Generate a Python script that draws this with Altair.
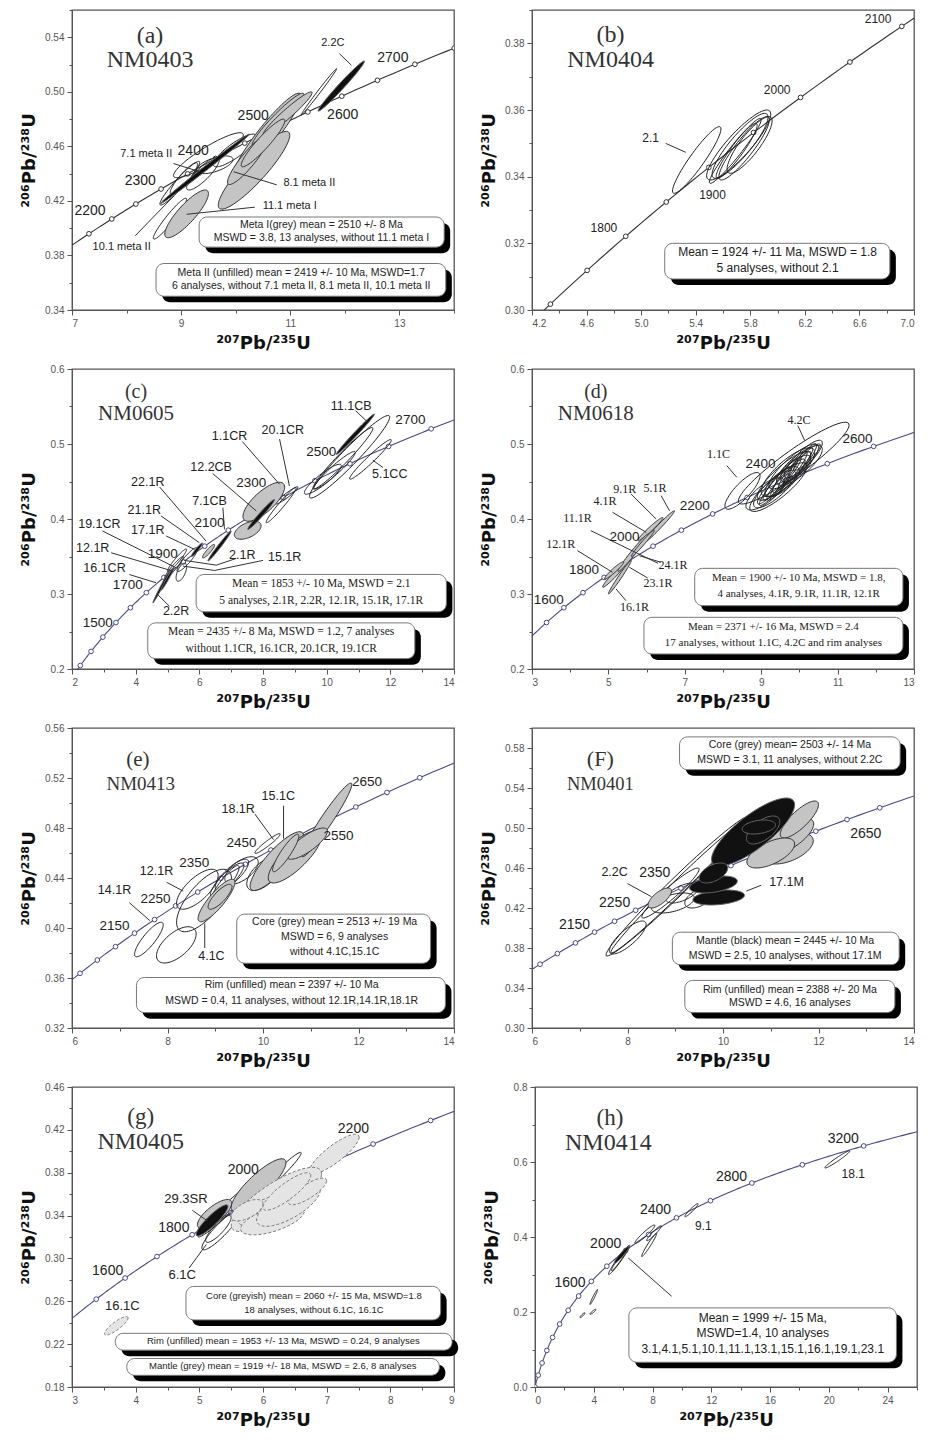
import json
import numpy as np
import pandas as pd
import altair as alt

L238 = 1.55125e-10
L235 = 9.8485e-10

XTITLE = "²⁰⁷Pb/²³⁵U"
YTITLE = "²⁰⁶Pb/²³⁸U"

# ---------------- panel (a) NM0403 ----------------
A_XDOM = [7, 14]
A_YDOM = [0.34, 0.56]
A_XMAJ = [7, 9, 11, 13]
A_XMIN = [8, 10, 12, 14]
A_YMAJ = [0.34, 0.38, 0.42, 0.46, 0.50, 0.54]
A_YMIN = [0.36, 0.40, 0.44, 0.48, 0.52, 0.56]
A_MARKS = [2150, 2200, 2250, 2300, 2350, 2400, 2450, 2500, 2550, 2600, 2650, 2700, 2750]
A_CURVE = list(range(2050, 2850, 10))
# (x_lo, x_hi, y_lo, y_hi, rho, style)  style: w=unfilled g=grey k=black d=dashed light
A_ELL = [
    (9.95, 11.2, 0.4366, 0.499, 0.93, "g"),
    (9.68, 10.99, 0.414, 0.471, 0.90, "g"),
    (8.7, 9.5, 0.393, 0.428, 0.85, "g"),
    (10.3, 11.25, 0.46, 0.499, 0.95, "g"),
    (10.5, 11.4, 0.468, 0.50, 0.96, "g"),
    (9.85, 10.6, 0.432, 0.468, 0.90, "g"),
    (10.1, 10.9, 0.445, 0.48, 0.93, "g"),
    (8.61, 9.34, 0.417, 0.449, 0.95, "w"),
    (8.49, 9.1, 0.392, 0.422, 0.95, "w"),
    (8.86, 10.14, 0.437, 0.470, 0.90, "w"),
    (9.28, 9.95, 0.44, 0.453, 0.60, "w"),
    (9.1, 9.7, 0.428, 0.452, 0.85, "w"),
    (9.59, 10.38, 0.445, 0.469, 0.85, "w"),
    (8.8, 9.3, 0.425, 0.448, 0.90, "w"),
    (11.2, 11.85, 0.483, 0.517, 0.995, "w"),
    (8.62, 10.25, 0.418, 0.469, 0.997, "k"),
    (11.51, 12.36, 0.4858, 0.5226, 0.985, "k"),
]
A_AGE_LBL = [(12.88, 0.525, "2700"), (11.96, 0.483, "2600"), (10.32, 0.482, "2500"),
             (9.22, 0.4565, "2400"), (8.25, 0.4347, "2300"), (7.33, 0.4126, "2200")]
A_SPOT_LBL = [(11.78, 0.536, "2.2C"), (8.36, 0.4546, "7.1 meta II"), (11.35, 0.4335, "8.1 meta II"),
              (10.99, 0.4162, "11.1 meta I"), (7.91, 0.386, "10.1 meta II")]
A_LEAD = [(11.9, 0.528, 12.12, 0.5195), (8.86, 0.4474, 9.34, 0.4414), (10.75, 0.4318, 9.96, 0.4414),
          (10.35, 0.4154, 9.1, 0.4102), (8.16, 0.3945, 8.86, 0.4234)]
A_BOX = [(9.33, 13.82, 0.3861, 0.4082), (8.54, 13.85, 0.3501, 0.3741)]
A_BOX_TXT = [(11.57, 0.4025, "Meta I(grey) mean = 2510 +/- 8 Ma"),
             (11.57, 0.3929, "MSWD = 3.8, 13 analyses, without 11.1 meta I"),
             (11.2, 0.3674, "Meta II (unfilled) mean = 2419 +/- 10 Ma, MSWD=1.7"),
             (11.2, 0.3578, "6 analyses, without 7.1 meta II, 8.1 meta II, 10.1 meta II")]
A_TITLE = [(8.43, 0.541, "(a)"), (8.43, 0.523, "NM0403")]

# ---------------- panel (b) NM0404 ----------------
B_XDOM = [4.2, 7.0]
B_YDOM = [0.30, 0.39]
B_XMAJ = [4.2, 4.6, 5.0, 5.4, 5.8, 6.2, 6.6, 7.0]
B_XMIN = [4.4, 4.8, 5.2, 5.6, 6.0, 6.4, 6.8]
B_YMAJ = [0.30, 0.32, 0.34, 0.36, 0.38]
B_YMIN = [0.31, 0.33, 0.35, 0.37, 0.39]
B_MARKS = [1700, 1750, 1800, 1850, 1900, 1950, 2000, 2050, 2100]
B_CURVE = list(range(1650, 2160, 10))
B_ELL = [
    (5.23, 5.585, 0.335, 0.355, 0.93, "w"),
    (5.48, 5.95, 0.339, 0.360, 0.88, "w"),
    (5.52, 5.93, 0.3395, 0.359, 0.88, "w"),
    (5.57, 5.94, 0.339, 0.358, 0.90, "w"),
    (5.63, 5.96, 0.341, 0.358, 0.85, "w"),
    (5.5, 5.88, 0.338, 0.3575, 0.96, "w"),
    (5.55, 5.85, 0.3395, 0.356, 0.93, "w"),
]
B_AGE_LBL = [(6.737, 0.3873, "2100"), (5.997, 0.3661, "2000"), (5.523, 0.3346, "1900"),
             (4.727, 0.3246, "1800")]
B_SPOT_LBL = [(5.07, 0.3515, "2.1")]
B_LEAD = [(5.18, 0.35, 5.327, 0.3473)]
B_BOX = [(5.173, 6.823, 0.3093, 0.32)]
B_BOX_TXT = [(6.0, 0.3173, "Mean = 1924 +/- 11 Ma, MSWD = 1.8"),
             (6.0, 0.3127, "5 analyses, without 2.1")]
B_TITLE = [(4.776, 0.3824, "(b)"), (4.776, 0.3751, "NM0404")]

# ---------------- panel (c) NM0605 ----------------
C_XDOM = [2, 14]
C_YDOM = [0.2, 0.6]
C_XMAJ = [2, 4, 6, 8, 10, 12, 14]
C_XMIN = [3, 5, 7, 9, 11, 13]
C_YMAJ = [0.2, 0.3, 0.4, 0.5, 0.6]
C_YMIN = [0.25, 0.35, 0.45, 0.55]
C_MARKS = [1200, 1300, 1400, 1500, 1600, 1700, 1800, 1900, 2000, 2100, 2200, 2300, 2400, 2500,
           2600, 2700, 2800]
C_CURVE = list(range(1150, 2850, 10))
C_ELL = [
    (9.46, 11.98, 0.428, 0.538, 0.96, "w"),
    (9.57, 11.45, 0.44, 0.522, 0.97, "w"),
    (10.72, 12.03, 0.453, 0.506, 0.97, "w"),
    (9.3, 10.46, 0.433, 0.473, 0.90, "w"),
    (9.6, 10.9, 0.44, 0.49, 0.95, "w"),
    (8.1, 9.04, 0.395, 0.442, 0.97, "w"),
    (8.4, 9.1, 0.42, 0.443, 0.95, "w"),
    (5.3, 5.95, 0.33, 0.362, 0.90, "w"),
    (5.27, 5.6, 0.317, 0.341, 0.60, "w"),
    (4.9, 5.5, 0.32, 0.35, 0.95, "w"),
    (5.0, 5.6, 0.33, 0.36, 0.95, "w"),
    (7.37, 8.68, 0.397, 0.449, 0.75, "g"),
    (7.1, 7.94, 0.373, 0.397, 0.50, "g"),
    (6.1, 6.48, 0.348, 0.366, 0.90, "g"),
    (10.3, 11.5, 0.486, 0.54, 0.99, "k"),
    (7.52, 8.36, 0.386, 0.426, 0.98, "k"),
    (6.27, 7.0, 0.344, 0.384, 0.985, "k"),
    (5.75, 6.1, 0.35, 0.368, 0.95, "k"),
    (4.54, 5.06, 0.288, 0.33, 0.99, "k"),
    (4.8, 5.2, 0.305, 0.335, 0.98, "k"),
]
C_AGE_LBL = [(12.63, 0.5318, "2700"), (9.83, 0.49, "2500"), (7.63, 0.4486, "2300"),
             (6.32, 0.3951, "2100"), (4.85, 0.3528, "1900"), (3.75, 0.3114, "1700"),
             (2.81, 0.2615, "1500")]
C_SPOT_LBL = [(10.77, 0.551, "11.1CB"), (6.95, 0.511, "1.1CR"), (8.62, 0.5185, "20.1CR"),
              (11.98, 0.4606, "5.1CC"), (6.37, 0.4695, "12.2CB"), (4.38, 0.4499, "22.1R"),
              (6.32, 0.424, "7.1CB"), (4.27, 0.4125, "21.1R"), (2.86, 0.3929, "19.1CR"),
              (4.38, 0.3853, "17.1R"), (2.65, 0.3617, "12.1R"), (7.35, 0.3519, "2.1R"),
              (8.68, 0.3492, "15.1R"), (3.02, 0.3341, "16.1CR"), (5.27, 0.2771, "2.2R")]
C_LEAD = [(10.91, 0.5443, 11.3, 0.5287), (7.35, 0.5033, 8.52, 0.4463), (8.52, 0.5065, 8.83, 0.4441),
          (11.77, 0.4686, 11.45, 0.4784), (6.42, 0.4606, 7.79, 0.4107), (4.75, 0.4428, 6.21, 0.3706),
          (6.74, 0.4151, 6.79, 0.3862), (4.8, 0.404, 6.0, 0.3684), (4.96, 0.3773, 5.85, 0.3595),
          (2.96, 0.384, 5.27, 0.335), (3.23, 0.355, 5.17, 0.3305), (3.8, 0.326, 4.64, 0.315),
          (5.06, 0.2837, 4.69, 0.2993),
          (5.53, 0.3448, 6.53, 0.3385), (6.53, 0.3385, 7.16, 0.3474),
          (5.48, 0.3372, 6.48, 0.3314), (6.48, 0.3314, 8.0, 0.3448)]
C_BOX = [(5.9, 13.76, 0.2762, 0.3261), (4.38, 12.77, 0.2138, 0.2615)]
C_BOX_TXT = [(9.83, 0.3127, "Mean = 1853 +/- 10 Ma, MSWD = 2.1"),
             (9.83, 0.2904, "5 analyses, 2.1R, 2.2R, 12.1R, 15.1R, 17.1R"),
             (8.57, 0.2494, "Mean = 2435 +/- 8 Ma, MSWD = 1.2, 7 analyses"),
             (8.57, 0.2272, "without 1.1CR, 16.1CR, 20.1CR, 19.1CR")]
C_TITLE = [(4.01, 0.5700, "(c)"), (4.01, 0.5400, "NM0605")]

# ---------------- panel (d) NM0618 ----------------
D_XDOM = [3, 13]
D_YDOM = [0.2, 0.6]
D_XMAJ = [3, 5, 7, 9, 11, 13]
D_XMIN = [4, 6, 8, 10, 12]
D_YMAJ = [0.2, 0.3, 0.4, 0.5, 0.6]
D_YMIN = [0.25, 0.35, 0.45, 0.55]
D_MARKS = [1500, 1600, 1700, 1800, 1900, 2000, 2100, 2200, 2300, 2400, 2500, 2600]
D_CURVE = list(range(1350, 2750, 10))
D_ELL = [
    (8.05, 8.97, 0.413, 0.462, 0.82, "w"),
    (8.4, 11.3, 0.42, 0.529, 0.93, "w"),
    (8.7, 10.2, 0.41, 0.475, 0.85, "w"),
    (8.9, 10.3, 0.425, 0.49, 0.85, "w"),
    (9.0, 10.4, 0.43, 0.495, 0.80, "w"),
    (9.2, 10.5, 0.44, 0.50, 0.85, "w"),
    (8.8, 9.9, 0.415, 0.465, 0.80, "w"),
    (9.4, 10.6, 0.445, 0.498, 0.80, "w"),
    (9.1, 10.0, 0.43, 0.47, 0.70, "w"),
    (9.5, 10.3, 0.45, 0.485, 0.75, "w"),
    (9.6, 10.6, 0.455, 0.505, 0.85, "w"),
    (8.6, 9.6, 0.412, 0.455, 0.75, "w"),
    (8.9, 9.8, 0.42, 0.47, 0.92, "w"),
    (9.05, 9.95, 0.425, 0.48, 0.93, "w"),
    (9.3, 10.2, 0.435, 0.49, 0.92, "w"),
    (9.45, 10.35, 0.44, 0.495, 0.93, "w"),
    (9.6, 10.45, 0.448, 0.50, 0.92, "w"),
    (8.95, 10.05, 0.418, 0.483, 0.95, "w"),
    (9.25, 10.15, 0.43, 0.48, 0.90, "w"),
    (9.7, 10.3, 0.455, 0.49, 0.90, "w"),
    (9.15, 9.75, 0.425, 0.46, 0.88, "w"),
    (9.85, 10.55, 0.465, 0.50, 0.90, "w"),
    (5.77, 6.43, 0.371, 0.402, 0.97, "g"),
    (5.9, 6.73, 0.367, 0.411, 0.985, "g"),
    (4.85, 5.5, 0.309, 0.344, 0.97, "g"),
    (5.0, 5.6, 0.30, 0.345, 0.985, "g"),
    (5.25, 6.05, 0.33, 0.38, 0.98, "g"),
    (4.9, 5.4, 0.32, 0.343, 0.95, "g"),
    (5.6, 6.2, 0.35, 0.385, 0.98, "g"),
]
D_AGE_LBL = [(11.52, 0.5067, "2600"), (8.98, 0.4733, "2400"), (7.26, 0.4178, "2200"),
             (5.42, 0.3756, "2000"), (4.36, 0.332, "1800"), (3.44, 0.292, "1600")]
D_SPOT_LBL = [(9.99, 0.532, "4.2C"), (7.88, 0.4867, "1.1C"), (5.43, 0.44, "9.1R"),
              (6.22, 0.4413, "5.1R"), (4.91, 0.4244, "4.1R"), (4.19, 0.4013, "11.1R"),
              (3.75, 0.3667, "12.1R"), (6.69, 0.3391, "24.1R"), (6.3, 0.3142, "23.1R"),
              (5.68, 0.2831, "16.1R")]
D_LEAD = [(9.96, 0.5244, 10.14, 0.5044), (8.1, 0.4711, 8.36, 0.4556), (5.59, 0.4333, 6.25, 0.40),
          (6.38, 0.4311, 6.6, 0.4111), (5.11, 0.4089, 5.99, 0.3822), (4.54, 0.3844, 6.3, 0.3409),
          (4.19, 0.3578, 5.11, 0.3289), (6.38, 0.3422, 5.81, 0.3511), (6.03, 0.3213, 5.55, 0.3356),
          (5.46, 0.2911, 5.2, 0.3067)]
D_BOX = [(7.26, 12.71, 0.2844, 0.3342), (5.93, 12.71, 0.22, 0.2689)]
D_BOX_TXT = [(9.98, 0.3209, "Mean = 1900 +/- 10 Ma, MSWD = 1.8,"),
             (9.98, 0.3, "4 analyses, 4.1R, 9.1R, 11.1R, 12.1R"),
             (9.32, 0.2556, "Mean = 2371 +/- 16 Ma, MSWD = 2.4"),
             (9.32, 0.2347, "17 analyses, without 1.1C, 4.2C and rim analyses")]
D_TITLE = [(4.67, 0.5700, "(d)"), (4.67, 0.5400, "NM0618")]

# ---------------- panel (e) NM0413 ----------------
E_XDOM = [6, 14]
E_YDOM = [0.32, 0.56]
E_XMAJ = [6, 8, 10, 12, 14]
E_XMIN = [7, 9, 11, 13]
E_YMAJ = [0.32, 0.36, 0.40, 0.44, 0.48, 0.52, 0.56]
E_YMIN = [0.34, 0.38, 0.42, 0.46, 0.50, 0.54]
E_MARKS = [2000, 2050, 2100, 2150, 2200, 2250, 2300, 2350, 2400, 2450, 2500, 2550, 2600, 2650, 2700]
E_CURVE = list(range(1950, 2800, 10))
E_ELL = [
    (7.31, 7.91, 0.377, 0.4046, 0.85, "w"),
    (7.77, 8.6, 0.372, 0.401, 0.60, "w"),
    (8.19, 9.06, 0.415, 0.447, 0.70, "w"),
    (8.19, 9.34, 0.397, 0.447, 0.70, "w"),
    (8.9, 9.6, 0.425, 0.452, 0.85, "w"),
    (9.0, 9.7, 0.43, 0.455, 0.80, "w"),
    (8.9, 9.5, 0.42, 0.45, 0.90, "w"),
    (9.66, 10.39, 0.43, 0.457, 0.60, "w"),
    (9.2, 9.9, 0.435, 0.457, 0.60, "w"),
    (9.83, 10.36, 0.4597, 0.4755, 0.95, "w"),
    (8.64, 9.41, 0.405, 0.439, 0.85, "g"),
    (8.85, 9.35, 0.415, 0.435, 0.80, "g"),
    (9.73, 10.85, 0.43, 0.477, 0.85, "g"),
    (10.11, 11.23, 0.436, 0.478, 0.80, "g"),
    (10.81, 11.86, 0.457, 0.516, 0.96, "g"),
    (10.5, 11.35, 0.455, 0.48, 0.80, "g"),
    (10.2, 10.75, 0.445, 0.475, 0.90, "g"),
]
E_AGE_LBL = [(12.18, 0.517, "2650"), (9.55, 0.4681, "2450"), (11.58, 0.4734, "2550"),
             (8.56, 0.4518, "2350"), (7.75, 0.4235, "2250"), (6.89, 0.4019, "2150")]
E_SPOT_LBL = [(10.32, 0.5057, "15.1C"), (9.48, 0.4952, "18.1R"), (7.77, 0.4453, "12.1R"),
              (6.89, 0.4308, "14.1R"), (8.92, 0.3778, "4.1C")]
E_LEAD = [(9.83, 0.4912, 10.22, 0.4707), (10.43, 0.4978, 10.43, 0.4715), (7.98, 0.4366, 8.33, 0.4295),
          (7.2, 0.4203, 7.63, 0.4059), (8.78, 0.3840, 8.78, 0.4036)]
E_BOX = [(9.45, 13.51, 0.3718, 0.4111), (7.35, 13.82, 0.3323, 0.3604)]
E_BOX_TXT = [(11.5, 0.4046, "Core (grey) mean = 2513 +/- 19 Ma"),
             (11.5, 0.3925, "MSWD = 6, 9 analyses"),
             (11.5, 0.3809, "without 4.1C,15.1C"),
             (10.6, 0.3541, "Rim (unfilled) mean = 2397 +/- 10 Ma"),
             (10.6, 0.3415, "MSWD = 0.4, 11 analyses, without 12.1R,14.1R,18.1R")]
E_TITLE = [(7.38, 0.5345, "(e)"), (7.44, 0.5149, "NM0413")]

# ---------------- panel (F) NM0401 ----------------
F_XDOM = [6, 14]
F_YDOM = [0.30, 0.60]
F_XMAJ = [6, 8, 10, 12, 14]
F_XMIN = [7, 9, 11, 13]
F_YMAJ = [0.30, 0.34, 0.38, 0.42, 0.46, 0.50, 0.54, 0.58]
F_YMIN = [0.32, 0.36, 0.40, 0.44, 0.48, 0.52, 0.56, 0.60]
F_MARKS = [2000, 2050, 2100, 2150, 2200, 2250, 2300, 2350, 2400, 2450, 2500, 2550, 2600, 2650, 2700]
F_CURVE = list(range(1950, 2800, 10))
F_ELL = [
    (7.55, 10.56, 0.372, 0.512, 0.985, "w"),
    (7.65, 10.5, 0.375, 0.508, 0.99, "w"),
    (7.62, 8.39, 0.374, 0.407, 0.80, "w"),
    (8.3, 9.5, 0.41, 0.46, 0.95, "w"),
    (8.5, 9.4, 0.415, 0.435, 0.50, "w"),
    (8.8, 9.5, 0.425, 0.445, 0.60, "w"),
    (9.2, 9.8, 0.42, 0.44, 0.50, "w"),
    (10.84, 11.89, 0.464, 0.495, 0.50, "g"),
    (10.7, 11.9, 0.47, 0.51, 0.70, "g"),
    (11.2, 12.0, 0.49, 0.527, 0.80, "g"),
    (10.5, 11.5, 0.46, 0.49, 0.60, "g"),
    (8.43, 8.92, 0.42, 0.44, 0.70, "g"),
    (9.76, 11.5, 0.462, 0.53, 0.80, "k"),
    (10.49, 11.19, 0.484, 0.512, 0.60, "k"),
    (10.4, 11.1, 0.494, 0.508, 0.30, "k"),
    (9.37, 10.45, 0.423, 0.438, 0.30, "k"),
    (9.3, 10.3, 0.435, 0.452, 0.40, "k"),
    (9.5, 10.1, 0.445, 0.465, 0.50, "k"),
]
F_AGE_LBL = [(12.99, 0.4936, "2650"), (8.57, 0.4552, "2350"), (7.73, 0.4247, "2250"),
             (6.89, 0.4034, "2150")]
F_SPOT_LBL = [(7.73, 0.4559, "2.2C"), (11.33, 0.446, "17.1M")]
F_LEAD = [(8.0, 0.4444, 8.5, 0.4313), (10.8, 0.4428, 10.49, 0.4369)]
F_BOX = [(9.09, 13.71, 0.5583, 0.5911), (8.94, 13.69, 0.3633, 0.3958), (9.2, 13.6, 0.3154, 0.3476)]
F_BOX_TXT = [(11.4, 0.5829, "Core (grey) mean= 2503 +/- 14 Ma"),
             (11.4, 0.5681, "MSWD = 3.1, 11 analyses, without 2.2C"),
             (11.3, 0.387, "Mantle (black) mean = 2445 +/- 10 Ma"),
             (11.3, 0.3722, "MSWD = 2.5, 10 analyses, without 17.1M"),
             (11.4, 0.3384, "Rim (unfilled) mean = 2388 +/- 20 Ma"),
             (11.4, 0.3246, "MSWD = 4.6, 16 analyses")]
F_TITLE = [(7.43, 0.5691, "(F)"), (7.43, 0.5445, "NM0401")]

# ---------------- panel (g) NM0405 ----------------
G_XDOM = [3, 9]
G_YDOM = [0.18, 0.46]
G_XMAJ = [3, 4, 5, 6, 7, 8, 9]
G_XMIN = [3.5, 4.5, 5.5, 6.5, 7.5, 8.5]
G_YMAJ = [0.18, 0.22, 0.26, 0.30, 0.34, 0.38, 0.42, 0.46]
G_YMIN = [0.20, 0.24, 0.28, 0.32, 0.36, 0.40, 0.44]
G_MARKS = [1500, 1600, 1700, 1800, 1900, 2000, 2100, 2200, 2300]
G_CURVE = list(range(1350, 2400, 10))
G_ELL = [
    (5.88, 6.6, 0.357, 0.399, 0.97, "w"),
    (5.04, 5.64, 0.308, 0.345, 0.90, "w"),
    (4.98, 5.85, 0.32, 0.37, 0.97, "w"),
    (5.1, 5.5, 0.315, 0.34, 0.85, "w"),
    (5.6, 6.1, 0.345, 0.37, 0.85, "w"),
    (4.97, 5.51, 0.328, 0.355, 0.75, "g"),
    (5.5, 6.36, 0.344, 0.393, 0.85, "g"),
    (3.51, 3.88, 0.2285, 0.2457, 0.85, "d"),
    (6.73, 7.51, 0.379, 0.416, 0.85, "d"),
    (5.5, 6.92, 0.325, 0.385, 0.80, "d"),
    (5.6, 6.6, 0.33, 0.36, 0.60, "d"),
    (5.65, 6.65, 0.322, 0.35, 0.60, "d"),
    (5.9, 6.9, 0.33, 0.37, 0.70, "d"),
    (5.5, 6.0, 0.335, 0.355, 0.60, "d"),
    (6.4, 7.0, 0.35, 0.375, 0.80, "d"),
    (6.0, 6.75, 0.345, 0.38, 0.85, "d"),
    (4.95, 5.45, 0.321, 0.35, 0.90, "k"),
]
G_AGE_LBL = [(7.42, 0.4209, "2200"), (5.69, 0.3824, "2000"), (4.6, 0.3286, "1800"),
             (3.56, 0.2879, "1600")]
G_SPOT_LBL = [(4.79, 0.3558, "29.3SR"), (4.73, 0.2842, "6.1C"), (3.79, 0.2557, "16.1C")]
G_LEAD = [(4.89, 0.3449, 5.13, 0.3349), (4.84, 0.2911, 5.11, 0.313)]
G_BOX = [(4.79, 8.79, 0.2426, 0.2739), (3.68, 8.97, 0.2144, 0.2301), (3.86, 8.77, 0.1909, 0.2066)]
G_BOX_TXT = [(6.8, 0.2654, "Core (greyish) mean = 2060 +/- 15 Ma, MSWD=1.8"),
             (6.8, 0.252, "18 analyses, without 6.1C, 16.1C"),
             (6.32, 0.2229, "Rim (unfilled) mean = 1953 +/- 13  Ma, MSWD = 0.24, 9 analyses"),
             (6.31, 0.1993, "Mantle (grey) mean = 1919 +/- 18 Ma, MSWD = 2.6, 8 analyses")]
G_TITLE = [(4.08, 0.4319, "(g)"), (4.08, 0.4084, "NM0405")]

# ---------------- panel (h) NM0414 ----------------
H_XDOM = [0, 26]
H_YDOM = [0.0, 0.8]
H_XMAJ = [0, 4, 8, 12, 16, 20, 24]
H_XMIN = [2, 6, 10, 14, 18, 22, 26]
H_YMAJ = [0.0, 0.2, 0.4, 0.6, 0.8]
H_YMIN = [0.1, 0.3, 0.5, 0.7]
H_MARKS = [0, 200, 400, 600, 800, 1000, 1200, 1400, 1600, 1800, 2000, 2200, 2400, 2600, 2800,
           3000, 3200]
H_CURVE = list(range(0, 3500, 10))
H_ELL = [
    (19.73, 21.43, 0.584, 0.630, 0.97, "w"),
    (10.2, 11.1, 0.454, 0.489, 0.95, "w"),
    (5.0, 6.45, 0.30, 0.378, 0.97, "w"),
    (5.2, 6.3, 0.31, 0.37, 0.97, "w"),
    (6.8, 8.16, 0.383, 0.432, 0.95, "w"),
    (7.26, 8.28, 0.348, 0.41, 0.97, "w"),
    (7.6, 8.6, 0.39, 0.43, 0.95, "w"),
    (3.74, 4.26, 0.22, 0.26, 0.97, "w"),
    (3.06, 3.4, 0.185, 0.198, 0.90, "w"),
    (3.74, 4.15, 0.194, 0.207, 0.90, "w"),
    (5.4, 6.4, 0.33, 0.375, 0.95, "k"),
]
H_AGE_LBL = [(20.98, 0.661, "3200"), (13.38, 0.559, "2800"), (8.2, 0.471, "2400"),
             (4.81, 0.381, "2000"), (2.38, 0.278, "1600")]
H_SPOT_LBL = [(21.66, 0.568, "18.1"), (11.45, 0.429, "9.1")]
H_LEAD = [(6.35, 0.344, 9.3, 0.242)]
H_BOX = [(6.39, 24.6, 0.066, 0.211)]
H_BOX_TXT = [(15.5, 0.185, "Mean = 1999 +/- 15 Ma,"),
             (15.5, 0.1427, "MSWD=1.4, 10 analyses"),
             (15.5, 0.1013, "3.1,4.1,5.1,10.1,11.1,13.1,15.1,16.1,19.1,23.1")]
H_TITLE = [(5.1, 0.718, "(h)"), (4.99, 0.652, "NM0414")]

# ------------------------------------------------------------------------------
SANS = "Liberation Sans"
SERIF = "Liberation Serif"
TITLE_FONT = "DejaVu Sans"
NAVY = "#4a4a8c"
W, H = 382, 300


def conc(ages):
    a = np.asarray(ages, dtype=float) * 1e6
    return np.exp(L235 * a) - 1.0, np.exp(L238 * a) - 1.0


def ell_df(ells, style):
    t = np.linspace(0, 2 * np.pi, 73)[:-1]
    rows = []
    for i, (x0, x1, y0, y1, rho, st) in enumerate(ells):
        if st != style:
            continue
        cx, cy = (x0 + x1) / 2, (y0 + y1) / 2
        sx, sy = (x1 - x0) / 2, (y1 - y0) / 2
        xs = cx + sx * np.cos(t)
        ys = cy + sy * (rho * np.cos(t) + np.sqrt(1 - rho ** 2) * np.sin(t))
        for k in range(len(t)):
            rows.append({"id": i, "k": k, "x": float(xs[k]), "y": float(ys[k])})
    return pd.DataFrame(rows)


def make_axis(title, major, minor, fmt, orient):
    test = "indexof(" + json.dumps(major) + ", datum.value) >= 0"
    kw = dict(
        title=title, values=sorted(major + minor),
        labelExpr=test + " ? format(datum.value, '" + fmt + "') : ''",
        tickSize={"condition": {"test": test, "value": 5}, "value": 3},
        labelFont=SANS, labelFontSize=10, labelColor="#555",
        titleFont=TITLE_FONT, titleFontSize=18, titleFontWeight="bold", titleColor="#111",
        tickColor="#555", domainColor="#555", grid=False, labelPadding=3,
    )
    if orient == "left":
        kw.update(minExtent=32, maxExtent=32, titlePadding=2)
    else:
        kw.update(minExtent=20, maxExtent=20, titlePadding=4)
    return alt.Axis(**kw)


def panel(P):
    xs = alt.Scale(domain=P["xdom"], zero=False, nice=False)
    ys = alt.Scale(domain=P["ydom"], zero=False, nice=False)
    xax = make_axis(XTITLE, P["xmaj"], P["xmin"], P["xfmt"], "bottom")
    yax = make_axis(YTITLE, P["ymaj"], P["ymin"], P["yfmt"], "left")

    def X(f="x"):
        return alt.X(f + ":Q", scale=xs, axis=xax)

    def Y(f="y"):
        return alt.Y(f + ":Q", scale=ys, axis=yax)

    layers = []
    cx, cy = conc(P["curve"])
    cdf = pd.DataFrame({"x": cx, "y": cy, "o": np.arange(len(cx))})
    layers.append(alt.Chart(cdf).mark_line(color=P["ccol"], strokeWidth=1.1, clip=True)
                  .encode(x=X(), y=Y(), order="o:Q"))
    mx, my = conc(P["marks"])
    mdf = pd.DataFrame({"x": mx, "y": my})
    layers.append(alt.Chart(mdf).mark_point(shape="circle", size=22, filled=True, fill="white",
                                            stroke=P["ccol"], strokeWidth=1, opacity=1, clip=True)
                  .encode(x=X(), y=Y()))
    styles = {
        "w": dict(fill="white", fillOpacity=0.0, stroke="#222", strokeWidth=1),
        "g": dict(fill="#c4c4c4", stroke="#333", strokeWidth=1),
        "d": dict(fill="#e4e4e4", stroke="#777", strokeWidth=1, strokeDash=[3, 2]),
        "k": dict(fill="#111111", stroke="#666", strokeWidth=1),
    }
    for st in ["w", "g", "d", "k"]:
        df = ell_df(P["ell"], st)
        if len(df) == 0:
            continue
        layers.append(alt.Chart(df).mark_line(interpolate="linear-closed", clip=True, **styles[st])
                      .encode(x=X(), y=Y(), detail="id:N", order="k:Q"))
    # leader lines
    ldf = pd.DataFrame(P["lead"], columns=["x", "y", "x2", "y2"])
    layers.append(alt.Chart(ldf).mark_rule(color="#333", strokeWidth=1)
                  .encode(x=X(), y=Y(), x2="x2:Q", y2="y2:Q"))
    # text boxes with shadow
    bdf = pd.DataFrame(P["box"], columns=["x", "x2", "y", "y2"])
    layers.append(alt.Chart(bdf).mark_rect(fill="#000", cornerRadius=8, xOffset=6, x2Offset=6,
                                           yOffset=6, y2Offset=6)
                  .encode(x=X(), x2="x2:Q", y=Y(), y2="y2:Q"))
    layers.append(alt.Chart(bdf).mark_rect(fill="white", stroke="#777", strokeWidth=1,
                                           cornerRadius=8)
                  .encode(x=X(), x2="x2:Q", y=Y(), y2="y2:Q"))
    tdf = pd.DataFrame(P["boxtxt"], columns=["x", "y", "t"])
    layers.append(alt.Chart(tdf).mark_text(font=P["boxfont"], fontSize=P["boxsize"], color="#222",
                                           align="center", baseline="middle")
                  .encode(x=X(), y=Y(), text="t:N"))
    adf = pd.DataFrame(P["age"], columns=["x", "y", "t"])
    layers.append(alt.Chart(adf).mark_text(font=SANS, fontSize=P["agesize"], color="#222",
                                           align="center", baseline="middle")
                  .encode(x=X(), y=Y(), text="t:N"))
    sdf = pd.DataFrame(P["spot"], columns=["x", "y", "t"])
    layers.append(alt.Chart(sdf).mark_text(font=P["spotfont"], fontSize=P["spotsize"], color="#222",
                                           align="center", baseline="middle")
                  .encode(x=X(), y=Y(), text="t:N"))
    ttl = pd.DataFrame(P["title"], columns=["x", "y", "t"])
    layers.append(alt.Chart(ttl.iloc[[0]]).mark_text(font=SERIF, fontSize=P["tsize"][0], color="#333",
                                                      align="center", baseline="middle")
                  .encode(x=X(), y=Y(), text="t:N"))
    layers.append(alt.Chart(ttl.iloc[[1]]).mark_text(font=SERIF, fontSize=P["tsize"][1], color="#333",
                                                      align="center", baseline="middle")
                  .encode(x=X(), y=Y(), text="t:N"))
    return alt.layer(*layers).properties(width=W, height=H)


def P(xdom, ydom, xmaj, xmin, ymaj, ymin, xfmt, yfmt, marks, curve, ccol, ell, age, spot, lead,
      box, boxtxt, title, boxfont, boxsize, agesize, spotfont, spotsize, tsize):
    return dict(xdom=xdom, ydom=ydom, xmaj=xmaj, xmin=xmin, ymaj=ymaj, ymin=ymin, xfmt=xfmt,
                yfmt=yfmt, marks=marks, curve=curve, ccol=ccol, ell=ell, age=age, spot=spot,
                lead=lead, box=box, boxtxt=boxtxt, title=title, boxfont=boxfont, boxsize=boxsize,
                agesize=agesize, spotfont=spotfont, spotsize=spotsize, tsize=tsize)


pa = panel(P(A_XDOM, A_YDOM, A_XMAJ, A_XMIN, A_YMAJ, A_YMIN, "d", ".2f", A_MARKS, A_CURVE, "#333",
             A_ELL, A_AGE_LBL, A_SPOT_LBL, A_LEAD, A_BOX, A_BOX_TXT, A_TITLE, SANS, 10.5, 14, SANS, 11,
             (24, 24)))
pb = panel(P(B_XDOM, B_YDOM, B_XMAJ, B_XMIN, B_YMAJ, B_YMIN, ".1f", ".2f", B_MARKS, B_CURVE, "#333",
             B_ELL, B_AGE_LBL, B_SPOT_LBL, B_LEAD, B_BOX, B_BOX_TXT, B_TITLE, SANS, 12, 12, SANS, 12,
             (24, 24)))
pc = panel(P(C_XDOM, C_YDOM, C_XMAJ, C_XMIN, C_YMAJ, C_YMIN, "d", ".1f", C_MARKS, C_CURVE, NAVY,
             C_ELL, C_AGE_LBL, C_SPOT_LBL, C_LEAD, C_BOX, C_BOX_TXT, C_TITLE, SERIF, 11.5, 13.5, SANS, 12.5,
             (20, 21)))
pd_ = panel(P(D_XDOM, D_YDOM, D_XMAJ, D_XMIN, D_YMAJ, D_YMIN, "d", ".1f", D_MARKS, D_CURVE, NAVY,
              D_ELL, D_AGE_LBL, D_SPOT_LBL, D_LEAD, D_BOX, D_BOX_TXT, D_TITLE, SERIF, 11, 13.5, SERIF, 12,
              (20, 21)))
pe = panel(P(E_XDOM, E_YDOM, E_XMAJ, E_XMIN, E_YMAJ, E_YMIN, "d", ".2f", E_MARKS, E_CURVE, NAVY,
             E_ELL, E_AGE_LBL, E_SPOT_LBL, E_LEAD, E_BOX, E_BOX_TXT, E_TITLE, SANS, 10.5, 13.5, SANS, 12.5,
             (21, 19)))
pf = panel(P(F_XDOM, F_YDOM, F_XMAJ, F_XMIN, F_YMAJ, F_YMIN, "d", ".2f", F_MARKS, F_CURVE, NAVY,
             F_ELL, F_AGE_LBL, F_SPOT_LBL, F_LEAD, F_BOX, F_BOX_TXT, F_TITLE, SANS, 10.5, 14, SANS, 12.5,
             (22, 18.5)))
pg = panel(P(G_XDOM, G_YDOM, G_XMAJ, G_XMIN, G_YMAJ, G_YMIN, "d", ".2f", G_MARKS, G_CURVE, NAVY,
             G_ELL, G_AGE_LBL, G_SPOT_LBL, G_LEAD, G_BOX, G_BOX_TXT, G_TITLE, SANS, 9.5, 14, SANS, 13,
             (23, 24)))
ph = panel(P(H_XDOM, H_YDOM, H_XMAJ, H_XMIN, H_YMAJ, H_YMIN, "d", ".1f", H_MARKS, H_CURVE, NAVY,
             H_ELL, H_AGE_LBL, H_SPOT_LBL, H_LEAD, H_BOX, H_BOX_TXT, H_TITLE, SANS, 12, 14, SANS, 12,
             (23, 24)))

rows = []
for l, r in [(pa, pb), (pc, pd_), (pe, pf), (pg, ph)]:
    rows.append(alt.hconcat(l, r, spacing=23).resolve_scale(x="independent", y="independent"))

chart = (alt.vconcat(*rows, spacing=10)
         .resolve_scale(x="independent", y="independent")
         .properties(padding={"left": 11, "top": 0, "right": 0, "bottom": 0}, background="white")
         .configure_view(stroke="#555", strokeWidth=1.3))

chart.save("out.html", embed_options={"renderer": "svg", "actions": False})
